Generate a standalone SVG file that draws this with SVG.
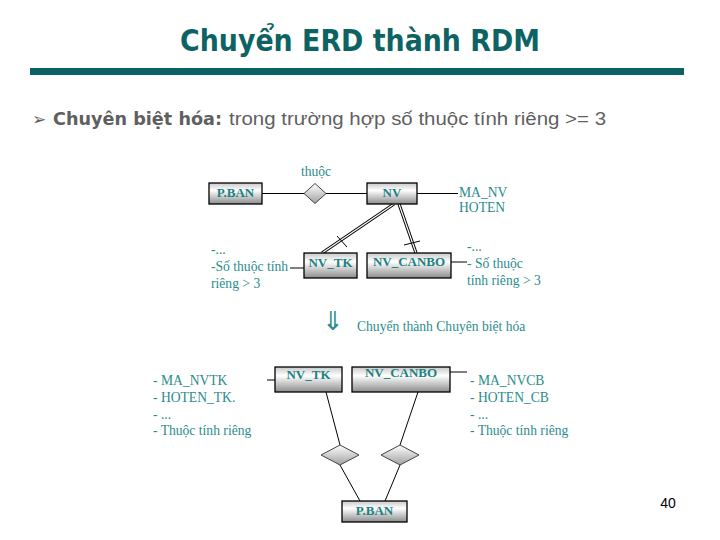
<svg xmlns="http://www.w3.org/2000/svg" width="720" height="540" viewBox="0 0 720 540">
<defs>
<linearGradient id="gbox" x1="0" y1="0" x2="0" y2="1">
<stop offset="0" stop-color="#c8c8c8"/>
<stop offset="0.35" stop-color="#ffffff"/>
<stop offset="1" stop-color="#8c8c8c"/>
</linearGradient>
<linearGradient id="gdia" x1="0" y1="0" x2="0" y2="1">
<stop offset="0" stop-color="#ffffff"/>
<stop offset="1" stop-color="#a0a0a0"/>
</linearGradient>
<style>
.box{fill:url(#gbox);stroke:#000;stroke-width:1.3}
.dia{fill:url(#gdia);stroke:#444;stroke-width:1}
.lbl{font-family:"Liberation Serif",serif;font-weight:bold;font-size:13px;fill:#1b8282;text-anchor:middle}
.t{font-family:"Liberation Serif",serif;font-size:13.6px;fill:#2a8c8c}
.ln{stroke:#000;stroke-width:1;fill:none}
.dbl{stroke:#000;stroke-width:3.2;fill:none}
.dblw{stroke:#fff;stroke-width:1.2;fill:none}
</style>
</defs>
<rect width="720" height="540" fill="#fff"/>
<text x="360" y="51" text-anchor="middle" font-family="'DejaVu Sans',sans-serif" font-weight="bold" font-size="30" fill="#0d6363" textLength="360" lengthAdjust="spacingAndGlyphs">Chuyển ERD thành RDM</text>
<rect x="30" y="68" width="654" height="7" fill="#0b6262"/>
<text x="32" y="125" font-family="'Liberation Sans',sans-serif" font-size="18" fill="#5f5f5f"><tspan font-family="'DejaVu Sans',sans-serif" font-size="17">➢</tspan><tspan x="53" font-weight="bold" font-family="'DejaVu Sans',sans-serif" font-size="17" textLength="169" lengthAdjust="spacingAndGlyphs">Chuyên biệt hóa:</tspan><tspan x="229" textLength="377" lengthAdjust="spacingAndGlyphs">trong trường hợp số thuộc tính riêng &gt;= 3</tspan></text>

<g id="connectors">
<line class="ln" x1="262" y1="193.5" x2="304" y2="193.5"/>
<line class="ln" x1="326" y1="193.5" x2="367" y2="193.5"/>
<line class="ln" x1="417" y1="193.5" x2="458" y2="193.5"/>
<line class="dbl" x1="394" y1="204" x2="322" y2="253"/>
<line class="dblw" x1="394" y1="204" x2="322" y2="253"/>
<line class="ln" x1="337" y1="236" x2="347" y2="247"/>
<line class="dbl" x1="399" y1="204" x2="416" y2="253"/>
<line class="dblw" x1="399" y1="204" x2="416" y2="253"/>
<line class="ln" x1="404" y1="245" x2="420" y2="241"/>
<line class="ln" x1="290" y1="268" x2="304" y2="268"/>
<line class="ln" x1="451" y1="262" x2="467" y2="262"/>
<line class="ln" x1="267" y1="380" x2="275" y2="380"/>
<line class="ln" x1="450" y1="372" x2="467" y2="372"/>
<line class="ln" x1="326" y1="392" x2="340" y2="445"/>
<line class="ln" x1="418" y1="392" x2="400" y2="445"/>
<line class="ln" x1="340" y1="465" x2="360" y2="501"/>
<line class="ln" x1="400" y1="465" x2="385" y2="501"/>
</g>

<g id="pban-top"><rect class="box" x="209" y="183" width="53" height="21"/><text class="lbl" x="235.5" y="197">P.BAN</text></g>
<g id="thuoc"><polygon class="dia" points="315,183.5 326,193.5 315,203.5 304,193.5"/><text class="t" x="316" y="176" text-anchor="middle">thuộc</text></g>
<g id="nv"><rect class="box" x="367" y="183" width="50" height="21"/><text class="lbl" x="392" y="197">NV</text></g>
<g id="nv-attrs"><text class="t" x="459" y="197">MA_NV</text><text class="t" x="459" y="212">HOTEN</text></g>
<g id="nvtk-top"><rect class="box" x="304" y="253" width="53" height="25"/><text class="lbl" x="330.5" y="267">NV_TK</text></g>
<g id="nvcanbo-top"><rect class="box" x="367" y="253" width="84" height="25"/><text class="lbl" x="409" y="266">NV_CANBO</text></g>
<g id="nvtk-attrs-top"><text class="t" x="211" y="254">-...</text><text class="t" x="211" y="271">-Số thuộc tính</text><text class="t" x="211" y="288">riêng &gt; 3</text></g>
<g id="nvcanbo-attrs-top"><text class="t" x="467" y="251">-...</text><text class="t" x="467" y="268">- Số thuộc</text><text class="t" x="467" y="285">tính riêng &gt; 3</text></g>

<g id="transition"><text x="333" y="330" text-anchor="middle" font-family="'DejaVu Sans',sans-serif" font-size="26" fill="#2a8c8c">⇓</text><text class="t" x="357" y="331">Chuyển thành Chuyên biệt hóa</text></g>

<g id="nvtk"><rect class="box" x="275" y="367" width="67" height="25"/><text class="lbl" x="308.5" y="379">NV_TK</text></g>
<g id="nvcanbo"><rect class="box" x="352" y="367" width="98" height="25"/><text class="lbl" x="401" y="377">NV_CANBO</text></g>
<g id="nvtk-attrs"><text class="t" x="153" y="385">- MA_NVTK</text><text class="t" x="153" y="402">- HOTEN_TK.</text><text class="t" x="153" y="419">- ...</text><text class="t" x="153" y="435">- Thuộc tính riêng</text></g>
<g id="nvcanbo-attrs"><text class="t" x="470" y="385">- MA_NVCB</text><text class="t" x="470" y="402">- HOTEN_CB</text><text class="t" x="470" y="419">- ...</text><text class="t" x="470" y="435">- Thuộc tính riêng</text></g>
<g id="rel-left"><polygon class="dia" points="340,445 359,455 340,465 321,455"/></g>
<g id="rel-right"><polygon class="dia" points="400,445 419,455 400,465 381,455"/></g>
<g id="pban"><rect class="box" x="342" y="501" width="65" height="21"/><text class="lbl" x="374.5" y="515">P.BAN</text></g>
<text x="668" y="508" text-anchor="middle" font-family="'Liberation Sans',sans-serif" font-size="14" fill="#000">40</text>
</svg>
